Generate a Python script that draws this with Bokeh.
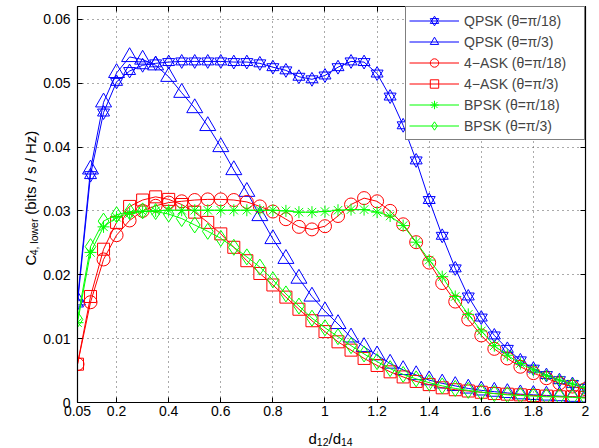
import numpy as np
from bokeh.plotting import figure
from bokeh.models import Range1d, FixedTicker, Legend, LegendItem, Label, LinearAxis
from bokeh.layouts import row, column
from bokeh.embed import file_html
from bokeh.resources import INLINE

# ---------------- data ----------------
ratio = [0.05, 0.10, 0.15, 0.20, 0.25, 0.30, 0.35, 0.40, 0.45, 0.50,
         0.55, 0.60, 0.65, 0.70, 0.75, 0.80, 0.85, 0.90, 0.95, 1.00,
         1.05, 1.10, 1.15, 1.20, 1.25, 1.30, 1.35, 1.40, 1.45, 1.50,
         1.55, 1.60, 1.65, 1.70, 1.75, 1.80, 1.85, 1.90, 1.95, 2.00]

qpsk_pi18 = [0.0155, 0.0356, 0.0454, 0.0502, 0.0519, 0.0528, 0.0531, 0.0533, 0.0534, 0.0534,
             0.0534, 0.0534, 0.0533, 0.0533, 0.0531, 0.0525, 0.0520, 0.0510, 0.0506, 0.0512,
             0.0525, 0.0534, 0.0533, 0.0515, 0.0479, 0.0434, 0.0379, 0.0317, 0.0261, 0.0210,
             0.0166, 0.0133, 0.0105, 0.0084, 0.0066, 0.0053, 0.0043, 0.0035, 0.0029, 0.0023]

qpsk_pi3 = [0.0160, 0.0365, 0.0470, 0.0516, 0.0541, 0.0537, 0.0528, 0.0510, 0.0485, 0.0461,
            0.0433, 0.0400, 0.0364, 0.0330, 0.0292, 0.0256, 0.0225, 0.0194, 0.0166, 0.0143,
            0.0123, 0.0102, 0.0087, 0.0074, 0.0061, 0.0051, 0.0043, 0.0035, 0.0030, 0.0026,
            0.0022, 0.0019, 0.0017, 0.0015, 0.0013, 0.0012, 0.0011, 0.0010, 0.0009, 0.0008]

ask_pi18 = [0.0060, 0.0157, 0.0224, 0.0262, 0.0285, 0.0300, 0.0308, 0.0313, 0.0315, 0.0317,
            0.0318, 0.0318, 0.0317, 0.0314, 0.0307, 0.0299, 0.0287, 0.0275, 0.0271, 0.0276,
            0.0292, 0.0310, 0.0320, 0.0315, 0.0300, 0.0279, 0.0251, 0.0219, 0.0187, 0.0158,
            0.0130, 0.0105, 0.0084, 0.0069, 0.0056, 0.0046, 0.0038, 0.0030, 0.0025, 0.0021]

ask_pi3 = [0.0060, 0.0166, 0.0240, 0.0282, 0.0307, 0.0317, 0.0322, 0.0318, 0.0310, 0.0298,
           0.0282, 0.0264, 0.0243, 0.0222, 0.0202, 0.0184, 0.0165, 0.0146, 0.0128, 0.0111,
           0.0095, 0.0082, 0.0069, 0.0058, 0.0048, 0.0040, 0.0033, 0.0028, 0.0023, 0.0020,
           0.0018, 0.0016, 0.0014, 0.0013, 0.0012, 0.0011, 0.0010, 0.0009, 0.0009, 0.0008]

bpsk_pi18 = [0.0125, 0.0235, 0.0275, 0.0290, 0.0296, 0.0299, 0.0300, 0.0301, 0.0301, 0.0301,
             0.0301, 0.0301, 0.0301, 0.0301, 0.0301, 0.0301, 0.0300, 0.0298, 0.0298, 0.0299,
             0.0301, 0.0302, 0.0302, 0.0298, 0.0292, 0.0277, 0.0251, 0.0223, 0.0197, 0.0166,
             0.0138, 0.0112, 0.0089, 0.0074, 0.0061, 0.0051, 0.0042, 0.0035, 0.0029, 0.0023]

bpsk_pi3 = [0.0130, 0.0244, 0.0284, 0.0294, 0.0299, 0.0300, 0.0299, 0.0295, 0.0288, 0.0278,
            0.0268, 0.0257, 0.0243, 0.0228, 0.0212, 0.0192, 0.0170, 0.0151, 0.0132, 0.0117,
            0.0103, 0.0089, 0.0076, 0.0064, 0.0053, 0.0044, 0.0037, 0.0031, 0.0026, 0.0022,
            0.0019, 0.0016, 0.0014, 0.0012, 0.0011, 0.0010, 0.0009, 0.0009, 0.0008, 0.0007]

series_labels = ["QPSK (θ=π/18)", "QPSK (θ=π/3)", "4−ASK (θ=π/18)",
                 "4−ASK (θ=π/3)", "BPSK (θ=π/18)", "BPSK (θ=π/3)"]

x_ticks = [0.05, 0.2, 0.4, 0.6, 0.8, 1.0, 1.2, 1.4, 1.6, 1.8, 2.0]
x_tick_labels = ["0.05", "0.2", "0.4", "0.6", "0.8", "1", "1.2", "1.4", "1.6", "1.8", "2"]
y_ticks = [0.0, 0.01, 0.02, 0.03, 0.04, 0.05, 0.06]
y_tick_labels = ["0", "0.01", "0.02", "0.03", "0.04", "0.05", "0.06"]

# ---------------- geometry (page origin at 0,0) ----------------
FONT = "Liberation Sans"
YW = 40                     # width of the y-title strip
PW, PH = 599 - YW, 422      # main figure
LEFT, RIGHT, TOP, BOTTOM = 35, 14, 6, 20
XH = 25                     # height of the x-title strip
FH = PH - TOP - BOTTOM      # frame height
frame_top = TOP

# ---------------- main figure ----------------
p = figure(width=PW, height=PH, output_backend="svg", toolbar_location=None,
           x_range=Range1d(0.05, 2.0), y_range=Range1d(0.0, 0.062),
           min_border_left=LEFT, min_border_right=RIGHT,
           min_border_top=TOP, min_border_bottom=BOTTOM)
p.background_fill_color = "white"
p.border_fill_color = "white"
p.outline_line_color = "black"
p.outline_line_width = 1.2

for ax in (p.xaxis[0], p.yaxis[0]):
    ax.major_label_text_font = FONT
    ax.major_label_text_font_size = "14px"
    ax.major_label_text_color = "black"
    ax.axis_line_color = "black"
    ax.major_tick_line_color = "black"
    ax.major_tick_in = 5
    ax.major_tick_out = 0
    ax.minor_tick_line_color = None

p.xaxis.ticker = FixedTicker(ticks=x_ticks)
p.xaxis.major_label_overrides = dict(zip(x_ticks, x_tick_labels))
p.yaxis.ticker = FixedTicker(ticks=y_ticks)
p.yaxis.major_label_overrides = dict(zip(y_ticks, y_tick_labels))
p.xaxis.major_label_standoff = 3
p.yaxis.major_label_standoff = 7

# box ticks on the top and right sides (no labels)
for side, ticks in (("above", x_ticks), ("right", y_ticks)):
    bx = LinearAxis(ticker=FixedTicker(ticks=ticks),
                    major_label_overrides={t: "" for t in ticks},
                    major_label_text_font_size="0px", major_label_standoff=0,
                    major_tick_in=5, major_tick_out=0, minor_tick_line_color=None,
                    axis_line_color="black", major_tick_line_color="black")
    p.add_layout(bx, side)

for g in (p.xgrid[0], p.ygrid[0]):
    g.grid_line_color = "#555555"
    g.grid_line_dash = "1 4"
    g.grid_line_width = 1
p.xgrid.ticker = FixedTicker(ticks=x_ticks)
p.ygrid.ticker = FixedTicker(ticks=y_ticks)

BLUE, RED, GREEN = "#0000ff", "#ff0000", "#00ff00"

def add_series(vals, color, markers):
    ln = p.line(ratio, vals, line_color=color, line_width=1)
    rs = [ln]
    for m, s in markers:
        rs.append(p.scatter(ratio, vals, marker=m, size=s, line_color=color,
                            fill_color=None, line_width=1))
    return rs

r1 = add_series(qpsk_pi18, BLUE, [("triangle", 12), ("inverted_triangle", 12)])
r2 = add_series(qpsk_pi3, BLUE, [("triangle", 16)])
r3 = add_series(ask_pi18, RED, [("circle", 13)])
r4 = add_series(ask_pi3, RED, [("square", 12)])
r5 = add_series(bpsk_pi18, GREEN, [("asterisk", 12)])
r6 = add_series(bpsk_pi3, GREEN, [("diamond", 16)])

items = [LegendItem(label=lab, renderers=rs)
         for lab, rs in zip(series_labels, [r1, r2, r3, r4, r5, r6])]
legend = Legend(items=items, location="top_right", margin=0, padding=3,
                spacing=0, glyph_height=21, glyph_width=50, label_height=21,
                label_width=117, label_standoff=5,
                label_text_font=FONT, label_text_font_size="14px",
                border_line_color="black", border_line_width=1.5,
                background_fill_color="white", background_fill_alpha=1)
p.add_layout(legend)

lab_kw = dict(text_font=FONT, text_color="black", text_align="left",
              text_baseline="alphabetic")

# ---------------- y title strip ----------------
yfig = figure(width=YW, height=PH, output_backend="svg", toolbar_location=None,
              x_range=Range1d(0, YW), y_range=Range1d(0, PH),
              x_axis_type=None, y_axis_type=None,
              min_border_left=0, min_border_right=0, min_border_top=0, min_border_bottom=0)
yfig.outline_line_color = None
yfig.background_fill_color = "white"
yfig.border_fill_color = "white"

y_center = frame_top + FH / 2 + 3
y_start = y_center + 69          # bottom end of the rotated title (page px)
for txt, fs, bx, off in [("C", 15, 30, 0), ("4, lower", 10.5, 33.5, 10.8),
                         ("(bits / s / Hz)", 15, 30, 54)]:
    yfig.add_layout(Label(x=bx, y=PH - (y_start - off), text=txt, angle=np.pi / 2,
                          text_font_size=f"{fs}px", **lab_kw))

# ---------------- x title strip ----------------
xfig = figure(width=599, height=XH, output_backend="svg", toolbar_location=None,
              x_range=Range1d(0, 599), y_range=Range1d(0, XH),
              x_axis_type=None, y_axis_type=None,
              min_border_left=0, min_border_right=0, min_border_top=0, min_border_bottom=0)
xfig.outline_line_color = None
xfig.background_fill_color = "white"
xfig.border_fill_color = "white"

parts = [("d", 15, 0), ("12", 10.5, 3.5), ("/", 15, 0), ("d", 15, 0), ("14", 10.5, 3.5)]
widths = {"d": 8.3, "12": 11.7, "/": 4.2, "14": 11.7}
cx = 308
base = PH + 16                   # page y of the main baseline
for t, fs, off in parts:
    xfig.add_layout(Label(x=cx, y=XH - (base + off - PH), text=t,
                          text_font_size=f"{fs}px", **lab_kw))
    cx += widths[t]

layout = column(row(yfig, p, spacing=0), xfig, spacing=0)
open("out.html", "w").write(file_html(layout, INLINE))
